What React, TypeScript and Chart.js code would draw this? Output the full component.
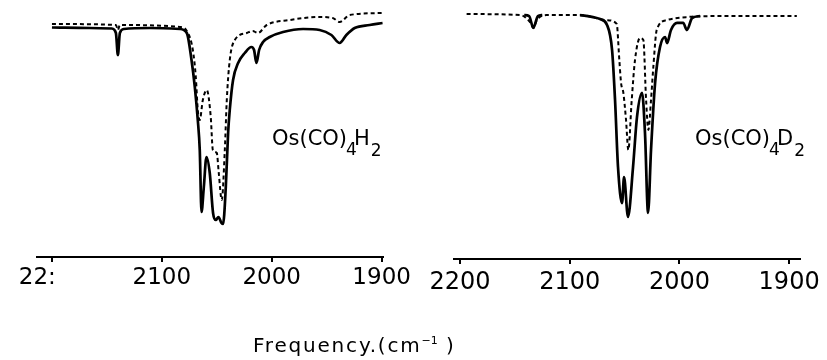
import React, { useEffect, useRef } from 'react';
import { Chart, registerables } from 'chart.js';

Chart.register(...registerables);

const FONT = '"DejaVu Sans", sans-serif';

// Axis ticks (cm^-1)
const TICK_VALUES = [2200, 2100, 2000, 1900];
const LEFT_TICK_LABELS = ['22:    ', '2100', '2000', '1900'];
const RIGHT_TICK_LABELS = ['2200', '2100', '2000', '1900'];

// Os(CO)4H2 — solid trace (frequency, transmittance %)
const H2_SOLID_FREQ = [2200, 2165.5, 2145.5, 2141.8, 2140, 2138.2, 2134.5, 2110.9, 2083.6, 2077.3, 2073, 2070, 2067.3, 2065.5, 2063.9, 2061.8, 2059.4, 2056.4, 2053.4, 2050.9, 2048.5, 2045.7, 2044.3, 2041.8, 2039.7, 2038.2, 2035.2, 2030.6, 2024.5, 2018.5, 2016.1, 2013.9, 2011.5, 2007.9, 2001.8, 1989.7, 1971.5, 1956.4, 1945.7, 1938.2, 1932.1, 1924.5, 1910.9, 1899];
const H2_SOLID_T = [91.8, 91.6, 91.4, 89.6, 80.8, 89.6, 91.2, 91.6, 91.2, 89.6, 78.8, 68, 54.8, 42.8, 18, 28, 40, 33.6, 17.6, 14.8, 16, 13.6, 13.2, 28, 49.6, 58.8, 70.8, 77.6, 81.6, 84, 82.8, 77.6, 82.8, 86, 88, 90, 91.2, 90.8, 88.8, 85.6, 88.8, 91.6, 92.8, 93.6];

// Os(CO)4H2 — dashed trace
const H2_DASHED_FREQ = [2200, 2141.8, 2140, 2138.2, 2083.6, 2077.3, 2071.8, 2069.1, 2067.3, 2065.5, 2062.7, 2059.1, 2055.5, 2053.6, 2050, 2048.2, 2045.5, 2042.7, 2040.9, 2038.2, 2033.6, 2022.7, 2017.3, 2012.7, 2004.5, 1983.6, 1956.4, 1944.5, 1938.2, 1929.1, 1899];
const H2_DASHED_T = [93.2, 92.8, 90.8, 92.8, 92, 90.4, 82.8, 72, 58.8, 54.8, 62.8, 66.8, 56, 42.8, 41.6, 33.6, 22.8, 42.8, 62.8, 78.8, 86.8, 89.6, 90.4, 89.6, 92.8, 94.8, 96, 95.6, 94, 96.8, 97.6];

// Os(CO)4D2 — solid trace (null = gap in the trace)
const D2_SOLID_FREQ = [2141.5, 2137, 2133.2, 2129, 2125, 2110, 2090.6, 2078.8, 2072.4, 2066, 2061.4, 2058.7, 2056, 2052.3, 2050.5, 2046.9, 2042.3, 2038.7, 2034.1, 2031.4, 2028.6, 2025.9, 2022.2, 2017.7, 2013.1, 2011.3, 2007.7, 2002.2, 1996.7, 1993.1, 1988.5, 1981.2];
const D2_SOLID_T = [96.8, 96.4, 91.7, 96.4, 96.8, null, 96.8, 96, 95.2, 92.9, 82.9, 63.1, 36.5, 22.2, 32.5, 16.7, 36.5, 56.3, 65.9, 50, 18.3, 43.3, 69.8, 84.1, 88.1, 85.7, 90.9, 93.7, 93.7, 90.9, 95.6, 96.4];

// Os(CO)4D2 — dashed trace
const D2_DASHED_FREQ = [2194, 2145.3, 2136.2, 2133.2, 2130, 2121, 2090.6, 2066.3, 2057.2, 2054.8, 2053.2, 2051.1, 2048.7, 2046.6, 2043.5, 2040.5, 2035.9, 2032.9, 2030.4, 2028.3, 2025.9, 2023.8, 2020.7, 2011.6, 1993.3, 1963, 1893];
const D2_DASHED_T = [97.2, 96.8, 94, 91.7, 94.8, 96.8, 96.8, 94.8, 93.3, 79, 69.8, 65.9, 55.2, 43.3, 63.1, 79, 87.7, 86.9, 63.1, 51.2, 63.1, 76.2, 90.9, 94.8, 96, 96.4, 96.4];

const toPoints = (xs: number[], ys: (number | null)[]) => xs.map((x, i) => ({ x, y: ys[i] }));

type PanelCfg = {
  solidFreq: number[];
  solidT: (number | null)[];
  dashedFreq: number[];
  dashedT: number[];
  tickLabels: string[];
  xMax: number;
  xMin: number;
  padLeft: number;
  padRight: number;
  axisHeight: number;
  tickFont: number;
  tickPad: number;
  formulaLetter: string;
  formulaX: number;
  formulaBaseline: number;
};

function drawFormula(ctx: CanvasRenderingContext2D, x: number, baseline: number, letter: string) {
  ctx.save();
  ctx.fillStyle = '#000';
  ctx.textBaseline = 'alphabetic';
  ctx.textAlign = 'left';
  ctx.font = `21px ${FONT}`;
  ctx.fillText('Os(CO)', x, baseline);
  const cx = x + ctx.measureText('Os(CO)').width;
  ctx.font = `17px ${FONT}`;
  ctx.fillText('4', cx - 1, baseline + 10);
  ctx.font = `21px ${FONT}`;
  const lx = cx + 7;
  ctx.fillText(letter, lx, baseline);
  const ex = lx + ctx.measureText(letter).width;
  ctx.font = `17px ${FONT}`;
  ctx.fillText('2', ex + 1, baseline + 11);
  ctx.restore();
}

function Panel({ cfg, left, width }: { cfg: PanelCfg; left: number; width: number }) {
  const ref = useRef<HTMLCanvasElement | null>(null);
  useEffect(() => {
    if (!ref.current) return;
    const formulaPlugin = {
      id: 'formula',
      afterDraw(chart: any) {
        drawFormula(chart.ctx, cfg.formulaX, cfg.formulaBaseline, cfg.formulaLetter);
      },
    };
    const chart = new Chart(ref.current, {
      type: 'line',
      data: {
        datasets: [
          {
            data: toPoints(cfg.solidFreq, cfg.solidT) as any,
            borderColor: '#000',
            borderWidth: 2.7,
            pointRadius: 0,
            cubicInterpolationMode: 'monotone',
            spanGaps: false,
            fill: false,
          },
          {
            data: toPoints(cfg.dashedFreq, cfg.dashedT) as any,
            borderColor: '#000',
            borderWidth: 2,
            borderDash: [4, 3],
            pointRadius: 0,
            cubicInterpolationMode: 'monotone',
            fill: false,
          },
        ],
      },
      options: {
        animation: false,
        responsive: false,
        devicePixelRatio: 1,
        layout: { padding: { left: cfg.padLeft, right: cfg.padRight, top: 7, bottom: 0 } },
        plugins: { legend: { display: false }, tooltip: { enabled: false }, title: { display: false } },
        scales: {
          x: {
            type: 'linear',
            reverse: true,
            min: cfg.xMin,
            max: cfg.xMax,
            afterBuildTicks: (axis: any) => {
              axis.ticks = TICK_VALUES.map((v) => ({ value: v }));
            },
            afterFit: (axis: any) => {
              axis.height = cfg.axisHeight;
            },
            border: { display: true, color: '#000', width: 2 },
            grid: { drawOnChartArea: false, drawTicks: true, tickLength: 5, color: '#000', lineWidth: 2 },
            ticks: {
              autoSkip: false,
              maxRotation: 0,
              color: '#000',
              padding: cfg.tickPad,
              font: { family: FONT, size: cfg.tickFont },
              callback: (value: any) => {
                const i = TICK_VALUES.indexOf(Number(value));
                return i >= 0 ? cfg.tickLabels[i] : '';
              },
            },
          },
          y: { display: false, min: 0, max: 100 },
        },
      },
      plugins: [formulaPlugin],
    } as any);
    return () => chart.destroy();
  }, [cfg]);
  return (
    <canvas
      ref={ref}
      width={width}
      height={360}
      style={{ position: 'absolute', left, top: 0, width, height: 360 }}
    />
  );
}

const LEFT_CFG: PanelCfg = {
  solidFreq: H2_SOLID_FREQ,
  solidT: H2_SOLID_T,
  dashedFreq: H2_DASHED_FREQ,
  dashedT: H2_DASHED_T,
  tickLabels: LEFT_TICK_LABELS,
  xMax: 2213.6,
  xMin: 1899,
  padLeft: 37,
  padRight: 30,
  axisHeight: 103,
  tickFont: 23,
  tickPad: 2,
  formulaLetter: 'H',
  formulaX: 272,
  formulaBaseline: 145,
};

const RIGHT_CFG: PanelCfg = {
  solidFreq: D2_SOLID_FREQ,
  solidT: D2_SOLID_T,
  dashedFreq: D2_DASHED_FREQ,
  dashedT: D2_DASHED_T,
  tickLabels: RIGHT_TICK_LABELS,
  xMax: 2205.5,
  xMin: 1890.1,
  padLeft: 41,
  padRight: 27,
  axisHeight: 101,
  tickFont: 24,
  tickPad: 4,
  formulaLetter: 'D',
  formulaX: 282,
  formulaBaseline: 145,
};

export default function App() {
  return (
    <div style={{ position: 'absolute', left: 0, top: 0, width: 827, height: 360, background: '#fff', overflow: 'hidden' }}>
      <Panel cfg={LEFT_CFG} left={0} width={413} />
      <Panel cfg={RIGHT_CFG} left={413} width={414} />
      <div
        style={{
          position: 'absolute',
          left: 253,
          top: 335,
          font: `20px ${FONT}`,
          lineHeight: '20px',
          letterSpacing: '1.8px',
          color: '#000',
          whiteSpace: 'nowrap',
        }}
      >
        Frequency.(cm<sup style={{ fontSize: 11, lineHeight: 0, letterSpacing: 0 }}>−1</sup> )
      </div>
    </div>
  );
}
